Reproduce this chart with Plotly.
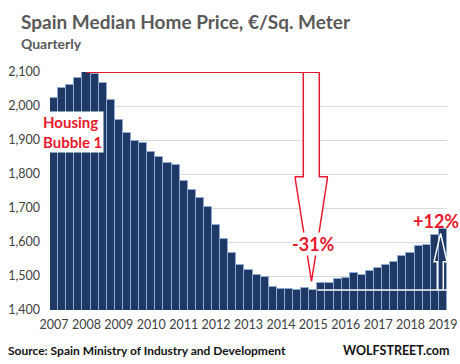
import plotly.graph_objects as go

years = ["2007", "2008", "2009", "2010", "2011", "2012", "2013",
         "2014", "2015", "2016", "2017", "2018", "2019"]
quarters = ["Q1", "Q2", "Q3", "Q4"]
periods = [f"{y} {q}" for y in years for q in quarters][:49]

price = [
    2023, 2052, 2062, 2083,   # 2007
    2099, 2093, 2067, 2017,   # 2008
    1958, 1921, 1898, 1890,   # 2009
    1865, 1849, 1831, 1826,   # 2010
    1779, 1752, 1729, 1702,   # 2011
    1649, 1608, 1567, 1532,   # 2012
    1517, 1504, 1496, 1469,   # 2013
    1461, 1461, 1458, 1464,   # 2014
    1459, 1478, 1478, 1490,   # 2015
    1494, 1508, 1502, 1514,   # 2016
    1525, 1532, 1541, 1560,   # 2017
    1567, 1587, 1590, 1620,   # 2018
    1637,                     # 2019
]
y_ticks = [1400, 1500, 1600, 1700, 1800, 1900, 2000, 2100]

W, H = 460, 364
L, R, T, B = 50, 13, 72, 54
PW, PH = W - L - R, H - T - B
n = len(price)
YMIN, YMAX = 1400, 2100

def xd(p):  # pixel x -> data x
    return (p - L) / (PW / n) - 0.5

def yd(p):  # pixel y -> data y
    return YMIN + (T + PH - p) * (YMAX - YMIN) / PH

def xp(p):
    return (p - L) / PW

def yp(p):
    return (T + PH - p) / PH

RED = "#e8192c"
idx = list(range(n))
peak_i = price.index(max(price))
peak = price[peak_i]
trough_i = 32
trough = price[trough_i]

fig = go.Figure(go.Bar(
    x=idx, y=price,
    marker=dict(color="#203864", line=dict(color="#8eaadb", width=1)),
    hoverinfo="y",
))

shapes = []
sx_l, sx_r = xd(303.3), xd(319.3)
hx_l, hx_r = xd(295.3), xd(327.3)
sb, ht = yd(176.7), yd(179)
tip_x, tip_y = xd(311.5), yd(281.5)
shapes.append(dict(type="line", x0=peak_i, x1=sx_r, y0=peak, y1=peak,
                   line=dict(color=RED, width=1.5), layer="above"))
path = (f"M {sx_l},{peak} L {sx_l},{sb} L {hx_l},{sb} L {hx_l},{ht} "
        f"L {tip_x},{tip_y} L {hx_r},{ht} L {hx_r},{sb} L {sx_r},{sb} L {sx_r},{peak} Z")
shapes.append(dict(type="path", path=path, fillcolor="white",
                   line=dict(color=RED, width=1.5), layer="above"))
shapes.append(dict(type="line", x0=trough_i + 0.5, x1=n - 0.5, y0=trough, y1=trough,
                   line=dict(color="white", width=1.5), layer="above"))
ux_l, ux_r = xd(437.3), xd(443.3)
uh_l, uh_r = xd(434), n - 0.5
ub = yd(261.7)
ut_x, ut_y = xd(440.6), yd(233.3)
upath = (f"M {ux_l},{trough} L {ux_l},{ub} L {uh_l},{ub} L {ut_x},{ut_y} "
         f"L {uh_r},{ub} L {ux_r},{ub} L {ux_r},{trough}")
shapes.append(dict(type="path", path=upath,
                   line=dict(color="white", width=1.5), layer="above"))

FONT = "Lato"
annotations = [
    dict(x=xp(41), y=yp(132), xref="paper", yref="paper", text="<b>Housing<br>Bubble 1</b>",
         showarrow=False, xanchor="left", yanchor="middle",
         font=dict(family=FONT, size=15, color=RED),
         bgcolor="white", align="left", borderpad=1),
    dict(x=xd(313.7), y=yd(243.5), xref="x", yref="y", text="<b>-31%</b>",
         showarrow=False, xanchor="center", yanchor="middle",
         font=dict(family=FONT, size=18, color=RED),
         bgcolor="white", borderpad=0),
    dict(x=xp(436), y=yp(221), xref="paper", yref="paper", text="<b>+12%</b>",
         showarrow=False, xanchor="center", yanchor="middle",
         font=dict(family=FONT, size=18, color=RED)),
    dict(x=xp(19), y=yp(21), xref="paper", yref="paper",
         text="<b>Spain Median Home Price, €/Sq. Meter</b>",
         showarrow=False, xanchor="left", yanchor="middle",
         font=dict(family=FONT, size=19, color="#595959")),
    dict(x=xp(19), y=yp(43), xref="paper", yref="paper", text="<b>Quarterly</b>",
         showarrow=False, xanchor="left", yanchor="middle",
         font=dict(family=FONT, size=14, color="#595959")),
    dict(x=xp(6), y=yp(350), xref="paper", yref="paper",
         text="<b>Source: Spain Ministry of Industry and Development</b>",
         showarrow=False, xanchor="left", yanchor="middle",
         font=dict(family=FONT, size=12, color="#111111")),
    dict(x=xp(452), y=yp(350), xref="paper", yref="paper", text="<b>WOLFSTREET.com</b>",
         showarrow=False, xanchor="right", yanchor="middle",
         font=dict(family=FONT, size=12.5, color="#111111")),
]

fig.update_layout(
    width=W, height=H,
    margin=dict(l=L, r=R, t=T, b=B, pad=0, autoexpand=False),
    paper_bgcolor="white", plot_bgcolor="white",
    bargap=0, showlegend=False,
    shapes=shapes, annotations=annotations,
    font=dict(family=FONT, size=12.5, color="#404040"),
)
fig.update_xaxes(range=[-0.5, n - 0.5], tickvals=list(range(0, n, 4)), ticktext=years,
                 showgrid=False, zeroline=False, showline=False, ticks="",
                 automargin=False, ticklabelstandoff=5,
                 tickfont=dict(size=12.5, color="#404040"))
fig.update_yaxes(range=[YMIN, YMAX], tickvals=y_ticks, tickformat=",d",
                 showgrid=True, gridcolor="#d9d9d9", gridwidth=1,
                 zeroline=False, showline=False, ticks="",
                 automargin=False, ticklabelstandoff=9,
                 tickfont=dict(size=12.5, color="#404040"))

fig.write_html("out.html", config={"displayModeBar": False},
               post_script="document.body.style.margin='0';document.body.style.overflow='hidden';")
